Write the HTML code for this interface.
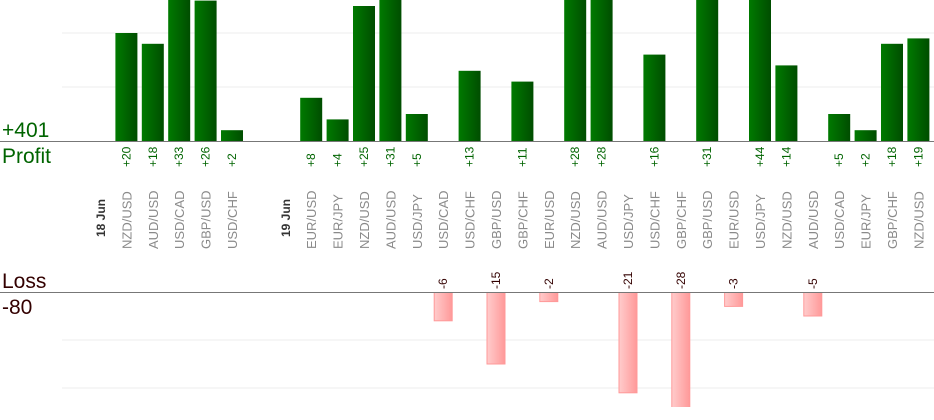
<!DOCTYPE html>
<html><head><meta charset="utf-8"><style>
body{margin:0;background:#fff;}
svg{display:block;font-family:"Liberation Sans",sans-serif;}
</style></head><body>
<svg id="c" width="934" height="420">
<defs>
<linearGradient id="gp" x1="0" x2="1"><stop offset="0" stop-color="#007a00"/><stop offset="1" stop-color="#004d00"/></linearGradient>
<linearGradient id="gl" x1="0" x2="1"><stop offset="0" stop-color="#ffcccc"/><stop offset="1" stop-color="#ff9999"/></linearGradient>
<clipPath id="cp"><rect x="0" y="0" width="934" height="141"/></clipPath>
<clipPath id="cl"><rect x="0" y="292" width="934" height="115"/></clipPath>
</defs>
</svg>
<script>
const categories=["18 Jun","NZD/USD","AUD/USD","USD/CAD","GBP/USD","USD/CHF","","19 Jun","EUR/USD","EUR/JPY","NZD/USD","AUD/USD","USD/JPY","USD/CAD","USD/CHF","GBP/USD","GBP/CHF","EUR/USD","NZD/USD","AUD/USD","USD/JPY","USD/CHF","GBP/CHF","GBP/USD","EUR/USD","USD/JPY","NZD/USD","AUD/USD","USD/CAD","EUR/JPY","GBP/CHF","NZD/USD"];
const isDate=[1,0,0,0,0,0,0,1,0,0,0,0,0,0,0,0,0,0,0,0,0,0,0,0,0,0,0,0,0,0,0,0];
const profit=[null,20,18,33,26,2,null,null,8,4,25,31,5,null,13,null,11,null,28,28,null,16,null,31,null,44,14,null,5,2,18,19];
const loss=[null,null,null,null,null,null,null,null,null,null,null,null,null,-6,null,-15,null,-2,null,null,-21,null,-28,null,-3,null,null,-5,null,null,null,null];
const profitTicks=[0,10,20];
const lossTicks=[0,-10,-20];
const totalProfit="+401", totalLoss="-80";

const NS="http://www.w3.org/2000/svg";
const svg=document.getElementById('c');
function mk(t,a,p){const e=document.createElementNS(NS,t);for(const k in a)e.setAttribute(k,a[k]);(p||svg).appendChild(e);return e;}
const x=i=>100+i*26.4;
const yP=v=>141-v*5.4;
const yL=v=>292-v*4.8;

profitTicks.forEach(t=>{if(t===0)return;const l=mk('line',{x1:62,x2:934,y1:yP(t),y2:yP(t),stroke:'#eee'});

});
lossTicks.forEach(t=>{if(t===0)return;const l=mk('line',{x1:62,x2:934,y1:yL(t),y2:yL(t),stroke:'#eee'});

});

const gp=mk('g',{'clip-path':'url(#cp)'});
const gl=mk('g',{'clip-path':'url(#cl)'});

categories.forEach((c,i)=>{
  const cx=x(i);
  if(c){
    const t=mk('text',{x:0,y:0,transform:`translate(${cx+5},${isDate[i]?237:249}) rotate(-90)`,'font-size':isDate[i]?12:13,'font-weight':isDate[i]?'bold':'normal',fill:isDate[i]?'#333':'#8a8a8a'});
    t.textContent=c;
    
    
  }
  const p=profit[i];
  if(p!=null){
    const r=mk('rect',{x:cx-11,y:yP(p),width:22,height:yP(0)-yP(p),fill:'url(#gp)'},gp);
    
    
    const t=mk('text',{transform:`translate(${cx+4},167) rotate(-90)`,'font-size':12,fill:'#006400'});
    t.textContent='+'+p;
    
    
  }
  const l=loss[i];
  if(l!=null){
    const r=mk('rect',{x:cx-9,y:292,width:18,height:yL(l)-292,fill:'url(#gl)',stroke:'#ff9999','stroke-width':1},gl);
    
    
    const t=mk('text',{transform:`translate(${cx+4},289) rotate(-90)`,'font-size':12,fill:'#300'});
    t.textContent=String(l);
    
    
  }
});

let a=mk('line',{x1:0,x2:934,y1:141.5,y2:141.5,stroke:'#777'});


a=mk('line',{x1:0,x2:934,y1:292.5,y2:292.5,stroke:'#777'});



function lab(txt,y,fill,name){const t=mk('text',{x:2,y:y,'font-size':21,fill:fill});t.textContent=txt;

}
lab(totalProfit,137,'#006400','total-profit');
lab('Profit',163,'#006400','profit-title');
lab('Loss',288,'#300','loss-title');
lab(totalLoss,314,'#300','total-loss');
</script>
</body></html>
